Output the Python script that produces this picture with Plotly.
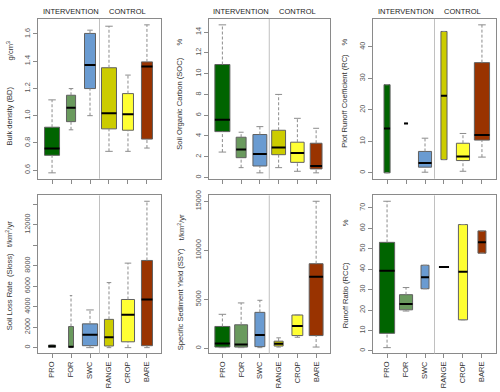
import plotly.graph_objects as go
from plotly.subplots import make_subplots

categories = ["PRO", "FOR", "SWC", "RANGE", "CROP", "BARE"]
positions = [1, 2, 3, 4, 5, 6]

# Bulk density (g/cm3)
bd_lower = [0.580, 0.896, 1.000, 0.738, 0.738, 0.762]
bd_q1 = [0.709, 0.956, 1.199, 0.903, 0.893, 0.828]
bd_median = [0.758, 1.058, 1.373, 1.017, 1.010, 1.361]
bd_q3 = [0.915, 1.150, 1.604, 1.352, 1.162, 1.395]
bd_upper = [1.116, 1.199, 1.628, 1.657, 1.298, 1.667]

# Soil organic carbon (%)
soc_lower = [2.45, 0.95, 0.45, 0.95, 0.60, 0.45]
soc_q1 = [4.42, 1.91, 1.11, 2.20, 1.46, 0.83]
soc_median = [5.57, 2.70, 2.26, 2.90, 2.35, 1.11]
soc_q3 = [10.88, 3.88, 4.14, 4.55, 3.40, 3.30]
soc_upper = [14.70, 4.36, 4.90, 8.00, 5.70, 4.74]

# Plot runoff coefficient (%)
rc_lower = [0.0, 15.7, 0.2, 4.2, 0.5, 5.0]
rc_q1 = [0.0, 15.7, 1.8, 4.2, 3.9, 10.4]
rc_median = [14.1, 15.7, 3.1, 24.5, 5.2, 12.0]
rc_q3 = [28.0, 15.7, 6.8, 44.9, 9.4, 35.0]
rc_upper = [28.0, 15.7, 11.0, 44.9, 12.5, 47.0]

# Soil loss rate (t/km2/yr)
sl_lower = [30, 0, 0, 0, 0, 0]
sl_q1 = [30, 40, 190, 160, 570, 190]
sl_median = [130, 80, 1270, 1020, 3210, 4700]
sl_q3 = [250, 2060, 2320, 2760, 4700, 8510]
sl_upper = [260, 5080, 3680, 6350, 8250, 14290]

# Specific sediment yield (t/km2/yr)
ssy_lower = [70, 70, 70, 130, 1130, 130]
ssy_q1 = [130, 130, 170, 230, 1300, 1300]
ssy_median = [500, 400, 1370, 470, 2270, 7300]
ssy_q3 = [2230, 2400, 3670, 730, 3400, 8630]
ssy_upper = [3470, 4630, 4900, 1070, 3400, 15000]

# Runoff ratio (%)
rcc_lower = [1.6, 19.5, 30.4, 41.0, 15.2, 47.8]
rcc_q1 = [8.6, 20.1, 30.4, 41.0, 15.2, 47.8]
rcc_median = [39.2, 23.0, 36.0, 41.0, 38.7, 53.1]
rcc_q3 = [53.1, 27.5, 41.9, 41.0, 61.8, 58.7]
rcc_upper = [73.2, 31.0, 41.9, 41.0, 61.8, 58.7]

# box widths (x units), styling only
bd_width = [0.79, 0.48, 0.58, 0.79, 0.58, 0.58]
soc_width = [0.80, 0.53, 0.74, 0.74, 0.72, 0.63]
rc_width = [0.32, 0.21, 0.69, 0.32, 0.69, 0.80]
sl_width = [0.37, 0.26, 0.80, 0.48, 0.69, 0.58]
ssy_width = [0.80, 0.69, 0.53, 0.48, 0.58, 0.74]
rcc_width = [0.80, 0.69, 0.42, 0.53, 0.48, 0.42]

colors = ["#006400", "#6a9a5e", "#6a9bd1", "#cccc00", "#ffff33", "#993300"]

FONT = "Liberation Sans, Arial, sans-serif"
FRAME = "#8a8a8a"

panels = [
    dict(row=1, col=1, stats=(bd_lower, bd_q1, bd_median, bd_q3, bd_upper), width=bd_width,
         tickvals=[0.6, 0.8, 1.0, 1.2, 1.4, 1.6], ticktext=["0.6", "0.8", "1.0", "1.2", "1.4", "1.6"],
         title="Bulk density (BD)", unit="g/cm<sup>3</sup>", tx=10, ty=113, ux=10, uy=47),
    dict(row=1, col=2, stats=(soc_lower, soc_q1, soc_median, soc_q3, soc_upper), width=soc_width,
         tickvals=[0, 2, 4, 6, 8, 10, 12, 14], ticktext=None,
         title="Soil Organic Carbon (SOC)", unit="%", tx=180, ty=100, ux=180, uy=38),
    dict(row=1, col=3, stats=(rc_lower, rc_q1, rc_median, rc_q3, rc_upper), width=rc_width,
         tickvals=[0, 10, 20, 30, 40], ticktext=None,
         title="Plot Runoff Coefficient (RC)", unit="%", tx=345, ty=97, ux=345, uy=38),
    dict(row=2, col=1, stats=(sl_lower, sl_q1, sl_median, sl_q3, sl_upper), width=sl_width,
         tickvals=[0, 2000, 4000, 6000, 8000, 10000, 12000, 14000],
         ticktext=["0", "2000", "4000", "6000", "8000", " ", "12000", " "],
         title="Soil Loss Rate  (Sloss)", unit="t/km<sup>2</sup>/yr", tx=9, ty=291, ux=9, uy=232),
    dict(row=2, col=2, stats=(ssy_lower, ssy_q1, ssy_median, ssy_q3, ssy_upper), width=ssy_width,
         tickvals=[0, 5000, 10000, 15000], ticktext=["0", "5000", "10000", "15000"],
         title="Specific Sediment Yield (SSY)", unit="t/km<sup>2</sup>/yr", tx=180, ty=298, ux=181, uy=225),
    dict(row=2, col=3, stats=(rcc_lower, rcc_q1, rcc_median, rcc_q3, rcc_upper), width=rcc_width,
         tickvals=[0, 10, 20, 30, 40, 50, 60, 70], ticktext=None,
         title="Runoff Ratio (RCC)", unit="%", tx=345, ty=294, ux=345, uy=221),
]

x_domains = [[0.076, 0.322], [0.417, 0.660], [0.746, 0.992]]
y_domains = {1: [0.551, 0.964], 2: [0.0995, 0.508]}

fig = make_subplots(rows=2, cols=3)

for p in panels:
    lower, q1, med, q3, upper = p["stats"]
    w = p["width"]
    r, c = p["row"], p["col"]

    # whiskers (dashed)
    wx, wy = [], []
    for x, lo, a, b, hi in zip(positions, lower, q1, q3, upper):
        wx += [x, x, None, x, x, None]
        wy += [lo, a, None, b, hi, None]
    fig.add_trace(go.Scatter(x=wx, y=wy, mode="lines", hoverinfo="skip",
                             line=dict(color="#8c8c8c", width=1, dash="3px,2px")), row=r, col=c)

    # staples
    sx, sy = [], []
    for x, lo, hi, bw in zip(positions, lower, upper, w):
        sx += [x - bw / 4, x + bw / 4, None, x - bw / 4, x + bw / 4, None]
        sy += [lo, lo, None, hi, hi, None]
    fig.add_trace(go.Scatter(x=sx, y=sy, mode="lines", hoverinfo="skip",
                             line=dict(color="#8c8c8c", width=1)), row=r, col=c)

    # boxes
    fig.add_trace(go.Bar(x=positions, y=[b - a for a, b in zip(q1, q3)], base=q1, width=w,
                         marker=dict(color=colors, line=dict(color="#606060", width=1)),
                         hoverinfo="skip"), row=r, col=c)

    # medians
    mx, my = [], []
    for x, m, bw in zip(positions, med, w):
        mx += [x - bw / 2, x + bw / 2, None]
        my += [m, m, None]
    fig.add_trace(go.Scatter(x=mx, y=my, mode="lines", hoverinfo="skip",
                             line=dict(color="black", width=2)), row=r, col=c)

    lo_all, hi_all = min(lower), max(upper)
    pad = 0.04 * (hi_all - lo_all)

    fig.update_xaxes(
        domain=x_domains[c - 1], range=[0.26, 6.74],
        tickvals=positions, ticktext=categories, showticklabels=(r == 2),
        tickangle=-90, tickfont=dict(family=FONT, size=7.5, color="#333"),
        ticks="outside", ticklen=4, tickcolor=FRAME,
        showline=True, mirror=True, linecolor=FRAME, linewidth=1,
        showgrid=False, zeroline=False, row=r, col=c,
    )
    yargs = dict(tickvals=p["tickvals"])
    if p["ticktext"] is not None:
        yargs["ticktext"] = p["ticktext"]
    fig.update_yaxes(
        domain=y_domains[r], range=[lo_all - pad, hi_all + pad],
        tickangle=-90, tickfont=dict(family=FONT, size=7.3, color="#555"),
        ticks="outside", ticklen=4, tickcolor=FRAME,
        showline=True, mirror=True, linecolor=FRAME, linewidth=1,
        showgrid=False, zeroline=False, row=r, col=c, **yargs,
    )

    # divider between intervention and control
    idx = (r - 1) * 3 + c
    xr = "x" if idx == 1 else f"x{idx}"
    yr = "y" if idx == 1 else f"y{idx}"
    fig.add_shape(type="line", xref=xr, yref=f"{yr} domain", x0=3.5, x1=3.5, y0=0, y1=1,
                  line=dict(color="#c0c0c0", width=1))

    # axis title and unit
    fig.add_annotation(xref="paper", yref="paper", x=p["tx"] / 500, y=1 - p["ty"] / 392,
                       xanchor="center", yanchor="middle",
                       text=p["title"], textangle=-90, showarrow=False,
                       font=dict(family=FONT, size=7.6, color="#333"))
    fig.add_annotation(xref="paper", yref="paper", x=p["ux"] / 500, y=1 - p["uy"] / 392,
                       xanchor="center", yanchor="middle",
                       text=p["unit"], textangle=-90, showarrow=False,
                       font=dict(family=FONT, size=7.6, color="#333"))

    if r == 1:
        for label, xpos in [("INTERVENTION", 2), ("CONTROL", 5)]:
            fig.add_annotation(xref=xr, yref="paper", x=xpos, y=1 - 7 / 392,
                               xanchor="center", yanchor="middle",
                               text=label, showarrow=False,
                               font=dict(family=FONT, size=7.5, color="#222"))

fig.update_layout(
    width=500, height=392,
    margin=dict(l=0, r=0, t=0, b=0),
    showlegend=False,
    barmode="overlay",
    plot_bgcolor="white",
    paper_bgcolor="white",
)

fig.write_html("out.html", config={"displayModeBar": False},
               post_script="document.body.style.margin='0';")
